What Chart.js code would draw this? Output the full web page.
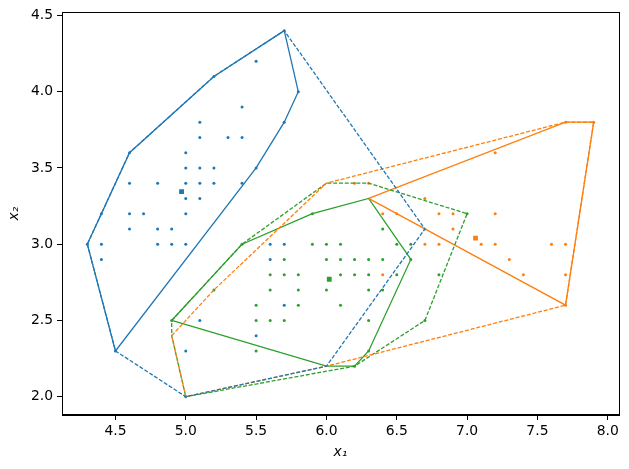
<!DOCTYPE html>
<html>
<head>
<meta charset="utf-8">
<script src="https://cdn.jsdelivr.net/npm/chart.js@4.4.0/dist/chart.umd.min.js"></script>
<style>
  html, body { margin: 0; padding: 0; background: #fff; }
  #wrap { width: 629px; height: 469px; }
</style>
</head>
<body>
<div id="wrap"><canvas id="chart" width="629" height="469"></canvas></div>
<script>
// tick labels
const xTicks = [4.5, 5.0, 5.5, 6.0, 6.5, 7.0, 7.5, 8.0];
const yTicks = [2.0, 2.5, 3.0, 3.5, 4.0, 4.5];

// points, coloured by cluster
const blueDots = [
  [5.5, 4.2], [5.4, 3.9], [5.1, 3.8], [5.1, 3.7], [5.3, 3.7], [5.4, 3.7], [5.0, 3.6],
  [5.0, 3.5], [5.1, 3.5], [5.2, 3.5], [4.6, 3.4], [4.8, 3.4], [5.0, 3.4], [5.1, 3.4],
  [5.2, 3.4], [5.4, 3.4], [5.0, 3.3], [5.1, 3.3], [4.4, 3.2], [4.6, 3.2], [4.7, 3.2],
  [5.0, 3.2], [4.6, 3.1], [4.8, 3.1], [4.9, 3.1], [4.3, 3.0], [4.4, 3.0], [4.8, 3.0],
  [4.9, 3.0], [5.0, 3.0], [4.4, 2.9], [4.5, 2.3], [5.0, 2.3], [5.1, 2.5],
  [4.6, 3.6], [5.2, 4.1], [5.7, 4.4], [5.8, 4.0], [5.7, 3.8], [5.5, 3.5],
  [5.6, 3.0], [5.7, 3.0], [5.6, 2.9], [5.7, 2.6], [5.5, 2.4]
];
const orangeDots = [
  [7.7, 3.8], [7.9, 3.8], [7.2, 3.6], [6.2, 3.4], [6.3, 3.4], [6.7, 3.3], [6.4, 3.2],
  [6.5, 3.2], [6.8, 3.2], [6.9, 3.2], [7.2, 3.2], [6.7, 3.1], [6.9, 3.1], [6.7, 3.0],
  [6.8, 3.0], [7.1, 3.0], [7.2, 3.0], [7.6, 3.0], [7.7, 3.0], [7.3, 2.9], [6.4, 2.8],
  [7.4, 2.8], [7.7, 2.8], [7.7, 2.6]
];
const greenDots = [
  [5.9, 3.2], [5.4, 3.0], [5.9, 3.0], [6.0, 3.0], [6.1, 3.0], [6.5, 3.0], [6.6, 3.0],
  [6.4, 3.1], [5.7, 2.9], [6.0, 2.9], [6.1, 2.9], [6.2, 2.9], [6.3, 2.9], [6.4, 2.9],
  [5.6, 2.8], [5.7, 2.8], [5.8, 2.8], [6.1, 2.8], [6.2, 2.8], [6.3, 2.8], [6.5, 2.8],
  [6.8, 2.8], [5.2, 2.7], [5.6, 2.7], [5.8, 2.7], [6.0, 2.7], [6.3, 2.7], [6.4, 2.7],
  [5.5, 2.6], [5.8, 2.6], [6.1, 2.6], [4.9, 2.5], [5.5, 2.5], [5.6, 2.5], [5.7, 2.5],
  [6.3, 2.5], [5.5, 2.3], [6.3, 2.3], [6.2, 2.2], [6.6, 2.9], [5.0, 2.0], [7.0, 3.2],
  [6.7, 2.5]
];

// cluster centres
const centres = [[4.97, 3.345], [7.06, 3.04], [6.02, 2.77]];

// hulls (solid and dashed)
const blueHull = [[4.3, 3.0], [4.6, 3.6], [5.2, 4.1], [5.7, 4.4], [5.8, 4.0], [5.7, 3.8], [5.5, 3.5], [4.5, 2.3], [4.3, 3.0]];
const blueHullDashed = [[4.3, 3.0], [4.5, 2.3], [5.0, 2.0], [6.0, 2.2], [6.7, 3.1], [5.7, 4.4], [5.2, 4.1], [4.6, 3.6], [4.3, 3.0]];
const orangeHull = [[6.3, 3.3], [7.7, 3.8], [7.9, 3.8], [7.7, 2.6], [6.3, 3.3]];
const orangeHullDashed = [[4.9, 2.4], [5.2, 2.7], [6.0, 3.4], [7.7, 3.8], [7.9, 3.8], [7.7, 2.6], [6.0, 2.2], [5.0, 2.0], [4.9, 2.4]];
const greenHull = [[4.9, 2.5], [5.4, 3.0], [5.9, 3.2], [6.3, 3.3], [6.6, 2.9], [6.3, 2.3], [6.2, 2.2], [6.0, 2.2], [4.9, 2.5]];
const greenHullDashed = [[4.9, 2.5], [5.4, 3.0], [6.0, 3.4], [6.3, 3.4], [7.0, 3.2], [6.7, 2.5], [6.2, 2.2], [5.0, 2.0], [4.9, 2.4], [4.9, 2.5]];

const BLUE = "#1f77b4", ORANGE = "#ff7f0e", GREEN = "#2ca02c";
const colours = [BLUE, ORANGE, GREEN];

const toXY = (arr) => arr.map(([x, y]) => ({ x, y }));

const dotSet = (arr, c) => ({
  data: toXY(arr), showLine: false, pointRadius: 1.5, pointHoverRadius: 1.5,
  backgroundColor: c, borderColor: c, borderWidth: 0, order: 3,
});
const hullSet = (arr, c, dashed) => ({
  data: toXY(arr), showLine: true, pointRadius: 0, borderColor: c,
  borderWidth: dashed ? 1.3 : 1.3, borderDash: dashed ? [4, 1.8] : [],
  fill: false, tension: 0, order: dashed ? 1 : 2,
});

// box around the plot area, like matplotlib spines
const framePlugin = {
  id: "frame",
  afterDatasetsDraw(chart) {
    const { ctx, chartArea: a } = chart;
    ctx.save();
    ctx.strokeStyle = "#000";
    ctx.lineWidth = 1;
    ctx.strokeRect(Math.round(a.left) + 0.5, Math.round(a.top) + 0.5,
      Math.round(a.right - a.left), Math.round(a.bottom - a.top));
    ctx.restore();
  },
};

const fontFamily = "'DejaVu Sans', sans-serif";

new Chart(document.getElementById("chart"), {
  type: "scatter",
  data: {
    datasets: [
      dotSet(blueDots, BLUE),
      dotSet(orangeDots, ORANGE),
      dotSet(greenDots, GREEN),
      hullSet(blueHull, BLUE, false),
      hullSet(orangeHull, ORANGE, false),
      hullSet(greenHull, GREEN, false),
      hullSet(blueHullDashed, BLUE, true),
      hullSet(orangeHullDashed, ORANGE, true),
      hullSet(greenHullDashed, GREEN, true),
      {
        data: toXY(centres), showLine: false, pointStyle: "rect", pointRadius: 3.4,
        backgroundColor: colours, borderColor: colours, borderWidth: 0, order: 0,
      },
    ],
  },
  options: {
    responsive: false,
    animation: false,
    events: [],
    layout: { padding: { top: 12, right: 10, left: 0, bottom: 0 } },
    plugins: { legend: { display: false }, tooltip: { enabled: false } },
    scales: {
      x: {
        type: "linear",
        min: 4.12,
        max: 8.08,
        afterFit: (s) => { s.height = 54; },
        afterBuildTicks: (s) => { s.ticks = xTicks.map((v) => ({ value: v })); },
        grid: { drawOnChartArea: false, drawTicks: true, tickLength: 5, color: "#000" },
        border: { display: true, color: "#000", width: 1 },
        ticks: {
          color: "#000", padding: 3, maxRotation: 0,
          font: { family: fontFamily, size: 13.9 },
          callback: (v) => Number(v).toFixed(1),
        },
        title: {
          display: true, text: "x\u2081", color: "#000",
          font: { family: fontFamily, size: 13.9, style: "italic" },
          padding: { top: 0, bottom: 8 },
        },
      },
      y: {
        type: "linear",
        min: 1.88,
        max: 4.52,
        afterFit: (s) => { s.width = 62; },
        afterBuildTicks: (s) => { s.ticks = yTicks.map((v) => ({ value: v })); },
        grid: { drawOnChartArea: false, drawTicks: true, tickLength: 5, color: "#000" },
        border: { display: true, color: "#000", width: 1 },
        ticks: {
          color: "#000", padding: 4,
          font: { family: fontFamily, size: 13.9 },
          callback: (v) => Number(v).toFixed(1),
        },
        title: {
          display: true, text: "x\u2082", color: "#000",
          font: { family: fontFamily, size: 13.9, style: "italic" },
          padding: { top: 6, bottom: 0 },
        },
      },
    },
  },
  plugins: [framePlugin],
});
</script>
</body>
</html>
